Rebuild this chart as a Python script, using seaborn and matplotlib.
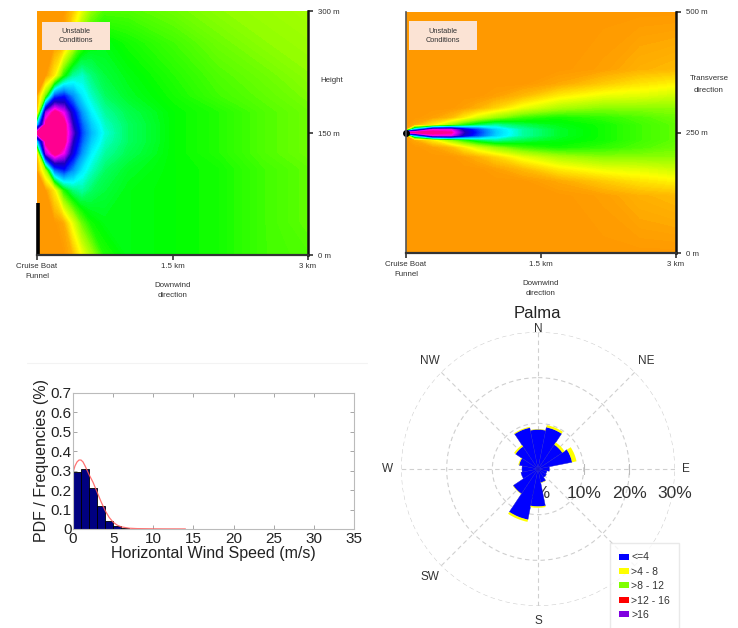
import numpy as np
import matplotlib
matplotlib.use("Agg")
import matplotlib.pyplot as plt
import seaborn as sns
from matplotlib.colors import LinearSegmentedColormap
from matplotlib.patches import Patch, Rectangle
from matplotlib.lines import Line2D

# ------------------------------------------------------------------ data
# Vertical section (downwind distance x height); 0 = background, 1 = plume core
sec_x_km = [0, 0.1, 0.2, 0.3, 0.4, 0.5, 0.6, 0.75, 1.0, 1.5, 2.0, 2.5, 3.0]
sec_z_m = [300, 260, 220, 195, 175, 160, 150, 140, 125, 105, 80, 40, 0]
sec_level = [
    [0.00, 0.00, 0.00, 0.00, 0.05, 0.14, 0.22, 0.27, 0.27, 0.25, 0.23, 0.22, 0.21],
    [0.00, 0.00, 0.00, 0.02, 0.15, 0.27, 0.32, 0.33, 0.31, 0.28, 0.25, 0.23, 0.22],
    [0.00, 0.00, 0.10, 0.30, 0.40, 0.42, 0.38, 0.35, 0.33, 0.30, 0.27, 0.25, 0.23],
    [0.00, 0.25, 0.62, 0.66, 0.56, 0.47, 0.42, 0.37, 0.34, 0.31, 0.28, 0.26, 0.24],
    [0.00, 0.85, 1.00, 0.90, 0.70, 0.55, 0.46, 0.40, 0.36, 0.32, 0.30, 0.27, 0.25],
    [0.45, 1.00, 1.00, 1.00, 0.76, 0.60, 0.50, 0.42, 0.37, 0.32, 0.30, 0.27, 0.25],
    [1.00, 1.00, 1.00, 1.00, 0.80, 0.62, 0.52, 0.43, 0.37, 0.32, 0.30, 0.27, 0.25],
    [0.45, 1.00, 1.00, 1.00, 0.76, 0.60, 0.50, 0.42, 0.37, 0.32, 0.30, 0.27, 0.25],
    [0.00, 0.85, 1.00, 0.90, 0.70, 0.55, 0.46, 0.40, 0.36, 0.32, 0.30, 0.27, 0.25],
    [0.00, 0.20, 0.60, 0.66, 0.56, 0.47, 0.42, 0.37, 0.34, 0.32, 0.31, 0.28, 0.26],
    [0.00, 0.00, 0.10, 0.30, 0.38, 0.40, 0.37, 0.35, 0.33, 0.32, 0.31, 0.28, 0.26],
    [0.00, 0.00, 0.00, 0.02, 0.14, 0.25, 0.31, 0.33, 0.33, 0.32, 0.31, 0.28, 0.26],
    [0.00, 0.00, 0.00, 0.00, 0.03, 0.12, 0.20, 0.30, 0.33, 0.32, 0.31, 0.28, 0.27],
]

# Plan view (downwind distance x transverse offset from the plume axis, upper half)
plan_x_km = [0, 0.1, 0.3, 0.5, 0.65, 0.8, 1.0, 1.3, 1.7, 2.2, 2.6, 3.0]
plan_offset_m = [0, 6, 15, 30, 50, 75, 100, 130, 250]
plan_level = [
    [1.00, 1.00, 1.00, 0.97, 0.76, 0.64, 0.50, 0.40, 0.34, 0.31, 0.28, 0.26],
    [0.00, 0.50, 0.90, 0.90, 0.72, 0.62, 0.49, 0.40, 0.34, 0.31, 0.28, 0.26],
    [0.00, 0.02, 0.10, 0.22, 0.30, 0.36, 0.40, 0.36, 0.33, 0.31, 0.28, 0.26],
    [0.00, 0.00, 0.01, 0.04, 0.10, 0.16, 0.22, 0.28, 0.31, 0.29, 0.27, 0.25],
    [0.00, 0.00, 0.00, 0.00, 0.01, 0.03, 0.07, 0.14, 0.20, 0.23, 0.23, 0.23],
    [0.00, 0.00, 0.00, 0.00, 0.00, 0.00, 0.01, 0.04, 0.10, 0.14, 0.15, 0.17],
    [0.00, 0.00, 0.00, 0.00, 0.00, 0.00, 0.00, 0.00, 0.02, 0.06, 0.09, 0.11],
    [0.00, 0.00, 0.00, 0.00, 0.00, 0.00, 0.00, 0.00, 0.00, 0.01, 0.03, 0.04],
    [0.00, 0.00, 0.00, 0.00, 0.00, 0.00, 0.00, 0.00, 0.00, 0.00, 0.00, 0.00],
]
funnel_height_m = 64

# Histogram of horizontal wind speed
speed_bin_left = [0, 1, 2, 3, 4, 5, 6]
speed_freq = [0.295, 0.31, 0.21, 0.12, 0.04, 0.015, 0.005]
pdf_speed = [0, 0.25, 0.5, 0.75, 1.0, 1.25, 1.5, 2.0, 2.5, 3.0, 3.5, 4.0, 4.5, 5.0,
             5.5, 6.0, 7.0, 8.0, 10.0, 12.0, 14.0]
pdf_value = [0.29, 0.325, 0.345, 0.355, 0.355, 0.345, 0.325, 0.28, 0.24, 0.19, 0.14,
             0.095, 0.06, 0.035, 0.02, 0.011, 0.004, 0.002, 0.001, 0.0006, 0.0004]

# Wind rose (Palma), % of time per direction sector
rose_dir_deg = [0, 22.5, 45, 67.5, 90, 112.5, 135, 157.5, 180, 202.5, 225, 247.5,
                270, 292.5, 315, 337.5]
rose_le4 = [8.6, 9.3, 6.4, 7.6, 2.5, 2.0, 2.2, 3.0, 8.2, 11.3, 6.5, 3.8, 3.5, 4.2, 5.9, 9.2]
rose_4to8 = [0.1, 0.5, 0.6, 1.0, 0.0, 0.0, 0.0, 0.1, 0.3, 0.5, 0.1, 0.0, 0.0, 0.2, 0.4, 0.2]
rose_classes = ["<=4", ">4 - 8", ">8 - 12", ">12 - 16", ">16"]
rose_colors = ["#0000FF", "#FFFF00", "#80FF00", "#FF0000", "#8000E0"]

# ------------------------------------------------------------------ style
sns.set_theme(style="white")
plt.rcParams["font.family"] = ["Liberation Sans", "DejaVu Sans"]

W, H = 738, 628
fig = plt.figure(figsize=(W / 100, H / 100), dpi=100)
fig.patch.set_facecolor("white")


def axes_px(l, t, r, b, **kw):
    return fig.add_axes([l / W, 1 - b / H, (r - l) / W, (b - t) / H], **kw)


def ftext(x, y, s, **kw):
    return fig.text(x / W, 1 - y / H, s, **kw)


cmap = LinearSegmentedColormap.from_list(
    "plume",
    list(zip([0, 0.12, 0.22, 0.32, 0.45, 0.58, 0.68, 0.76, 0.84, 0.92, 0.97, 1.0],
             ["#FF9900", "#FFFF00", "#99FF00", "#00FF00", "#00FFFF", "#0080FF",
              "#0000FF", "#1A00C0", "#9000E8", "#FF00F0", "#FF0090", "#FF0090"])))
levels = np.linspace(-0.002, 1.002, 201)
small = dict(fontsize=5.7, color="#333333")


def style_field_axes(ax, yticks, ylabels, left_spine):
    ax.set_xlim(0, 3)
    ax.set_xticks([0, 1.5, 3])
    ax.set_xticklabels(["Cruise Boat\nFunnel", "1.5 km", "3 km"], linespacing=1.45,
                       **small)
    ax.yaxis.tick_right()
    ax.set_yticks(yticks)
    ax.set_yticklabels(ylabels, **small)
    ax.tick_params(axis="x", direction="out", length=3.5, width=1.2, pad=2.5,
                   colors="#333333", bottom=True)
    ax.tick_params(axis="y", direction="out", length=3.5, width=1.2, pad=4,
                   colors="#333333", right=True, left=False)
    ax.spines["top"].set_visible(False)
    ax.spines["left"].set_visible(left_spine)
    ax.spines["left"].set_color("#555555")
    ax.spines["left"].set_linewidth(1.2)
    ax.spines["bottom"].set_color("#333333")
    ax.spines["bottom"].set_linewidth(1.6)
    ax.spines["right"].set_color("#111111")
    ax.spines["right"].set_linewidth(1.8)
    ax.set_xlabel("Downwind\ndirection", labelpad=2, linespacing=1.45, **small)


# ---------------- panel 1: vertical section
ax1 = axes_px(37, 11, 308, 255)
ax1.contourf(sec_x_km, sec_z_m, np.array(sec_level), levels=levels, cmap=cmap,
             vmin=0, vmax=1, antialiased=False)
ax1.set_ylim(0, 300)
style_field_axes(ax1, [0, 150, 300], ["0 m", "150 m", "300 m"], left_spine=False)
ax1.plot([0.015, 0.015], [0, funnel_height_m], color="black", lw=2.6,
         solid_capstyle="butt", clip_on=False)
ftext(332, 81, "Height", ha="center", va="center", **small)
fig.add_artist(Rectangle((42 / W, 1 - 50 / H), 68 / W, 28 / H,
                         transform=fig.transFigure, facecolor="#FBE3D4", edgecolor="none"))
ftext(76, 36, "Unstable\nConditions", ha="center", va="center", linespacing=1.45,
      fontsize=5.3, color="#333333")

# ---------------- panel 2: plan view
off = np.array(plan_offset_m, dtype=float)
plan_y = np.concatenate([250 - off[::-1], 250 + off[1:]])
pl = np.array(plan_level)
plan_full = np.vstack([pl[::-1], pl[1:]])
ax2 = axes_px(406, 12, 676, 253)
ax2.contourf(plan_x_km, plan_y, plan_full, levels=levels, cmap=cmap,
             vmin=0, vmax=1, antialiased=False)
ax2.set_ylim(0, 500)
style_field_axes(ax2, [0, 250, 500], ["0 m", "250 m", "500 m"], left_spine=True)
ax2.plot([0], [250], "o", color="black", ms=4, clip_on=False)
ftext(709, 79, "Transverse", ha="center", va="center", **small)
ftext(709, 91, "direction", ha="center", va="center", **small)
fig.add_artist(Rectangle((409 / W, 1 - 50 / H), 68 / W, 29 / H,
                         transform=fig.transFigure, facecolor="#FBE3D4", edgecolor="none"))
ftext(443, 36, "Unstable\nConditions", ha="center", va="center", linespacing=1.45,
      fontsize=5.3, color="#333333")

# faint separator line above the histogram panel
fig.add_artist(Line2D([27 / W, 367 / W], [1 - 363 / H, 1 - 363 / H], color="#F3F3F3",
                      lw=0.8, transform=fig.transFigure))

# ---------------- panel 3: wind speed histogram
ax3 = axes_px(73, 393, 354, 529)
centers = [b + 0.5 for b in speed_bin_left]
edges = speed_bin_left + [speed_bin_left[-1] + 1]
sns.histplot(x=centers, weights=speed_freq, bins=edges, stat="count", ax=ax3,
             color="#000080", edgecolor="#000000", linewidth=0.6, alpha=1.0)
sns.lineplot(x=pdf_speed, y=pdf_value, ax=ax3, color="#FF5A5A", lw=0.9, alpha=0.85)
ax3.set_xlim(0, 35)
ax3.set_ylim(0, 0.7)
ax3.set_xticks(range(0, 36, 5))
ax3.set_yticks([0, 0.1, 0.2, 0.3, 0.4, 0.5, 0.6, 0.7])
ax3.set_yticklabels(["0", "0.1", "0.2", "0.3", "0.4", "0.5", "0.6", "0.7"])
ax3.tick_params(direction="in", length=3, width=0.6, color="#999999", top=True,
                right=True, bottom=True, left=True, labelsize=11, labelcolor="#222222")
ax3.tick_params(axis="y", pad=1)
ax3.tick_params(axis="x", pad=2)
for s in ax3.spines.values():
    s.set_color("#BBBBBB")
    s.set_linewidth(0.8)
ax3.set_xlabel("Horizontal Wind Speed (m/s)", fontsize=11.5, color="#222222", labelpad=0)
ax3.set_ylabel("PDF / Frequencies (%)", fontsize=11.5, color="#222222", labelpad=1)
ax3.grid(False)

# ---------------- panel 4: wind rose
ax4 = axes_px(401, 332, 675, 606, projection="polar")
ax4.set_theta_zero_location("N")
ax4.set_theta_direction(-1)
theta = np.deg2rad(rose_dir_deg)
width = 2 * np.pi / len(rose_dir_deg)
ax4.bar(theta, rose_le4, width=width, color=rose_colors[0], edgecolor="#1A1AD0",
        linewidth=0.3, zorder=2)
ax4.bar(theta, rose_4to8, width=width, bottom=rose_le4, color=rose_colors[1],
        edgecolor="none", zorder=2)
ax4.set_ylim(0, 30)
ax4.set_xticks(np.deg2rad(np.arange(0, 360, 45)))
ax4.set_xticklabels([])
ax4.set_yticks([10, 20, 30])
ax4.set_yticklabels([])
ax4.grid(True, color="#CFCFCF", linestyle=(0, (4, 3)), linewidth=0.8)
ax4.set_axisbelow(True)
ax4.spines["polar"].set_visible(False)
ax4.plot(np.deg2rad([90, 90, 90]), [10, 20, 30], ls="none", marker="|", ms=7,
         color="#BBBBBB", mew=0.8, zorder=1)
for r in [0, 10, 20, 30]:
    ax4.annotate(f"{r}%", xy=(np.pi / 2, r), xytext=(0, -17.5), textcoords="offset points",
                 ha="center", va="center", fontsize=12.5, color="#333333", zorder=1,
                 annotation_clip=False)
dir_labels = {"N": (0, 30.7), "NE": (45, 33.5), "E": (90, 32.4), "S": (180, 33.2),
              "SW": (225, 33.5), "W": (270, 33.0), "NW": (315, 33.5)}
for lab, (ang, rr) in dir_labels.items():
    ax4.text(np.deg2rad(ang), rr, lab, ha="center", va="center", fontsize=8.5,
             color="#333333")
ftext(537, 314, "Palma", ha="center", va="center", fontsize=12, color="#222222")

handles = [Patch(facecolor=c, edgecolor="none") for c in rose_colors]
leg = fig.legend(handles, rose_classes, loc="upper left",
                 bbox_to_anchor=(610 / W, 1 - 543 / H), fontsize=7.5, frameon=True,
                 fancybox=False, edgecolor="#E4E4E4", handlelength=0.9, handleheight=0.5,
                 handletextpad=0.25, labelspacing=0.42, borderpad=0.9,
                 borderaxespad=0)
for t in leg.get_texts():
    t.set_color("#333333")

fig.savefig("out.png", dpi=100, facecolor="white")
